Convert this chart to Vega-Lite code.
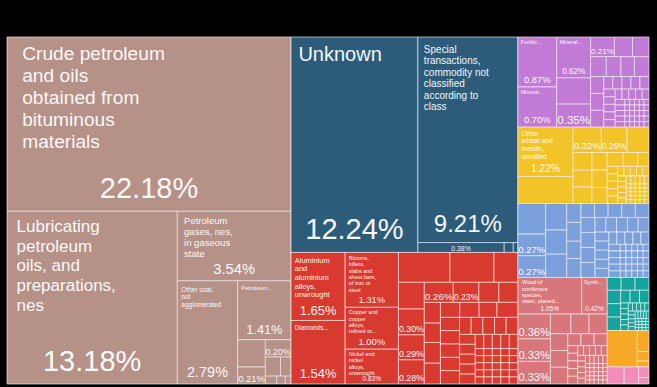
{
"$schema":"https://vega.github.io/schema/vega-lite/v6.json",
"width":642,"height":347,"autosize":"none",
"padding":{"left":7,"top":37,"right":8,"bottom":3},
"background":"#000000",
"config":{"view":{"stroke":null}},
"data":{"values":[
{"k":"1.1","v":22.18,"c":"min","n":"Crude petroleum\nand oils\nobtained from\nbituminous\nmaterials"},
{"k":"1.2.1","v":13.18,"c":"min","n":"Lubricating\npetroleum\noils, and\npreparations,\nnes"},
{"k":"1.2.2.1","v":3.54,"c":"min","n":"Petroleum\ngases, nes,\nin gaseous\nstate"},
{"k":"1.2.2.2.1","v":2.79,"c":"min","n":"Other coal,\nnot\nagglomerated"},
{"k":"1.2.2.2.2.1","v":1.41,"c":"min","n":"Petroleum..."},
{"k":"1.2.2.2.2.2.1.1","v":0.34,"c":"min"},
{"k":"1.2.2.2.2.2.1.2","v":0.21,"c":"min","n":""},
{"k":"1.2.2.2.2.2.2.1","v":0.20,"c":"min","n":""},
{"k":"1.2.2.2.2.2.2.2.1","v":0.13,"c":"min"},
{"k":"1.2.2.2.2.2.2.2.2","v":0.09,"c":"min"},
{"k":"1.2.2.2.2.2.2.3.1","v":0.04,"c":"min"},
{"k":"1.2.2.2.2.2.2.3.2","v":0.03,"c":"min"},
{"k":"1.2.2.2.2.2.2.3.3","v":0.02,"c":"min"},
{"k":"2.1.1","v":12.24,"c":"unk","n":"Unknown"},
{"k":"2.1.2.1","v":9.21,"c":"unk","n":"Special\ntransactions,\ncommodity not\nclassified\naccording to\nclass"},
{"k":"2.1.2.2.1","v":0.38,"c":"unk","n":""},
{"k":"2.1.2.2.2","v":0.04,"c":"unk"},
{"k":"2.1.2.2.3","v":0.02,"c":"unk"},
{"k":"2.2.1.1","v":1.65,"c":"met","n":"Aluminium\nand\naluminium\nalloys,\nunwrought"},
{"k":"2.2.1.2","v":1.54,"c":"met","n":"Diamonds..."},
{"k":"2.2.2.1","v":1.31,"c":"met","n":"Blooms,\nbillets,\nslabs and\nsheet bars,\nof iron or\nsteel"},
{"k":"2.2.2.2","v":1.00,"c":"met","n":"Copper and\ncopper\nalloys,\nrefined or..."},
{"k":"2.2.2.3","v":0.83,"c":"met","n":"Nickel and\nnickel\nalloys,\nunwrought"},
{"k":"2.2.3.1.1","v":0.69,"c":"met"},
{"k":"2.2.3.1.2","v":0.59,"c":"met"},
{"k":"2.2.3.1.3","v":0.32,"c":"met"},
{"k":"2.2.3.2.1.1","v":0.31,"c":"met"},
{"k":"2.2.3.2.1.2","v":0.30,"c":"met","n":""},
{"k":"2.2.3.2.1.3","v":0.29,"c":"met","n":""},
{"k":"2.2.3.2.1.4","v":0.28,"c":"met","n":""},
{"k":"2.2.3.2.2.1.1","v":0.26,"c":"met","n":""},
{"k":"2.2.3.2.2.1.2","v":0.23,"c":"met","n":""},
{"k":"2.2.3.2.2.1.3","v":0.18,"c":"met"},
{"k":"2.2.3.2.2.1.4","v":0.17,"c":"met"},
{"k":"2.2.3.2.2.2.1.1","v":0.15,"c":"met"},
{"k":"2.2.3.2.2.2.1.2","v":0.14,"c":"met"},
{"k":"2.2.3.2.2.2.1.3","v":0.15,"c":"met"},
{"k":"2.2.3.2.2.2.1.4","v":0.15,"c":"met"},
{"k":"2.2.3.2.2.2.2.1.1","v":0.13,"c":"met"},
{"k":"2.2.3.2.2.2.2.1.2","v":0.13,"c":"met"},
{"k":"2.2.3.2.2.2.2.1.3","v":0.12,"c":"met"},
{"k":"2.2.3.2.2.2.2.1.4","v":0.14,"c":"met"},
{"k":"2.2.3.2.2.2.2.2.1.1","v":0.114,"c":"met"},
{"k":"2.2.3.2.2.2.2.2.1.2","v":0.114,"c":"met"},
{"k":"2.2.3.2.2.2.2.2.1.3","v":0.114,"c":"met"},
{"k":"2.2.3.2.2.2.2.2.1.4","v":0.114,"c":"met"},
{"k":"2.2.3.2.2.2.2.2.1.5","v":0.114,"c":"met"},
{"k":"2.2.3.2.2.2.2.2.2.1.1","v":0.089,"c":"met"},
{"k":"2.2.3.2.2.2.2.2.2.1.2","v":0.089,"c":"met"},
{"k":"2.2.3.2.2.2.2.2.2.1.3","v":0.089,"c":"met"},
{"k":"2.2.3.2.2.2.2.2.2.1.4","v":0.089,"c":"met"},
{"k":"2.2.3.2.2.2.2.2.2.1.5","v":0.089,"c":"met"},
{"k":"2.2.3.2.2.2.2.2.2.2.1.1","v":0.070,"c":"met"},
{"k":"2.2.3.2.2.2.2.2.2.2.1.2","v":0.070,"c":"met"},
{"k":"2.2.3.2.2.2.2.2.2.2.1.3","v":0.070,"c":"met"},
{"k":"2.2.3.2.2.2.2.2.2.2.1.4","v":0.070,"c":"met"},
{"k":"2.2.3.2.2.2.2.2.2.2.1.5","v":0.070,"c":"met"},
{"k":"2.2.3.2.2.2.2.2.2.2.2.1.1","v":0.054,"c":"met"},
{"k":"2.2.3.2.2.2.2.2.2.2.2.1.2","v":0.054,"c":"met"},
{"k":"2.2.3.2.2.2.2.2.2.2.2.1.3","v":0.054,"c":"met"},
{"k":"2.2.3.2.2.2.2.2.2.2.2.1.4","v":0.054,"c":"met"},
{"k":"2.2.3.2.2.2.2.2.2.2.2.1.5","v":0.054,"c":"met"},
{"k":"2.2.3.2.2.2.2.2.2.2.2.2.1.1","v":0.027,"c":"met"},
{"k":"2.2.3.2.2.2.2.2.2.2.2.2.1.2","v":0.027,"c":"met"},
{"k":"2.2.3.2.2.2.2.2.2.2.2.2.1.3","v":0.027,"c":"met"},
{"k":"2.2.3.2.2.2.2.2.2.2.2.2.1.4","v":0.027,"c":"met"},
{"k":"2.2.3.2.2.2.2.2.2.2.2.2.1.5","v":0.027,"c":"met"},
{"k":"2.2.3.2.2.2.2.2.2.2.2.2.2.1","v":0.027,"c":"met"},
{"k":"2.2.3.2.2.2.2.2.2.2.2.2.2.2","v":0.027,"c":"met"},
{"k":"2.2.3.2.2.2.2.2.2.2.2.2.2.3","v":0.027,"c":"met"},
{"k":"2.2.3.2.2.2.2.2.2.2.2.2.2.4","v":0.027,"c":"met"},
{"k":"2.2.3.2.2.2.2.2.2.2.2.2.2.5","v":0.027,"c":"met"},
{"k":"2.2.3.2.2.2.2.2.2.2.2.2.3.1","v":0.027,"c":"met"},
{"k":"2.2.3.2.2.2.2.2.2.2.2.2.3.2","v":0.027,"c":"met"},
{"k":"2.2.3.2.2.2.2.2.2.2.2.2.3.3","v":0.027,"c":"met"},
{"k":"2.2.3.2.2.2.2.2.2.2.2.2.3.4","v":0.027,"c":"met"},
{"k":"2.2.3.2.2.2.2.2.2.2.2.2.3.5","v":0.027,"c":"met"},
{"k":"2.2.3.2.2.2.2.2.2.2.2.2.4.1","v":0.027,"c":"met"},
{"k":"2.2.3.2.2.2.2.2.2.2.2.2.4.2","v":0.027,"c":"met"},
{"k":"2.2.3.2.2.2.2.2.2.2.2.2.4.3","v":0.027,"c":"met"},
{"k":"2.2.3.2.2.2.2.2.2.2.2.2.4.4","v":0.027,"c":"met"},
{"k":"2.2.3.2.2.2.2.2.2.2.2.2.4.5","v":0.027,"c":"met"},
{"k":"2.2.3.2.2.2.2.2.2.2.2.2.5.1","v":0.027,"c":"met"},
{"k":"2.2.3.2.2.2.2.2.2.2.2.2.5.2","v":0.027,"c":"met"},
{"k":"2.2.3.2.2.2.2.2.2.2.2.2.5.3","v":0.027,"c":"met"},
{"k":"2.2.3.2.2.2.2.2.2.2.2.2.5.4","v":0.027,"c":"met"},
{"k":"2.2.3.2.2.2.2.2.2.2.2.2.5.5","v":0.027,"c":"met"},
{"k":"3.1.1.1","v":0.87,"c":"chem","n":"Fertiliz..."},
{"k":"3.1.1.2","v":0.70,"c":"chem","n":"Mineral..."},
{"k":"3.1.2.1","v":0.62,"c":"chem","n":"Mineral..."},
{"k":"3.1.2.2","v":0.40,"c":"chem"},
{"k":"3.1.2.3","v":0.35,"c":"chem","n":""},
{"k":"3.1.3.1.1","v":0.21,"c":"chem","n":""},
{"k":"3.1.3.1.2","v":0.16,"c":"chem"},
{"k":"3.1.3.1.3","v":0.145,"c":"chem"},
{"k":"3.1.3.2.1","v":0.14,"c":"chem"},
{"k":"3.1.3.2.2","v":0.13,"c":"chem"},
{"k":"3.1.3.2.3","v":0.12,"c":"chem"},
{"k":"3.1.3.2.4","v":0.13,"c":"chem"},
{"k":"3.1.3.3.1.1","v":0.10,"c":"chem"},
{"k":"3.1.3.3.1.2","v":0.10,"c":"chem"},
{"k":"3.1.3.3.1.3","v":0.10,"c":"chem"},
{"k":"3.1.3.3.2.1.1","v":0.051,"c":"chem"},
{"k":"3.1.3.3.2.1.2","v":0.051,"c":"chem"},
{"k":"3.1.3.3.2.1.3","v":0.051,"c":"chem"},
{"k":"3.1.3.3.2.1.4","v":0.051,"c":"chem"},
{"k":"3.1.3.3.2.1.5","v":0.051,"c":"chem"},
{"k":"3.1.3.3.2.2.1.1","v":0.039,"c":"chem"},
{"k":"3.1.3.3.2.2.1.2","v":0.039,"c":"chem"},
{"k":"3.1.3.3.2.2.1.3","v":0.039,"c":"chem"},
{"k":"3.1.3.3.2.2.1.4","v":0.039,"c":"chem"},
{"k":"3.1.3.3.2.2.1.5","v":0.039,"c":"chem"},
{"k":"3.1.3.3.2.2.2.1.1","v":0.031,"c":"chem"},
{"k":"3.1.3.3.2.2.2.1.2","v":0.031,"c":"chem"},
{"k":"3.1.3.3.2.2.2.1.3","v":0.031,"c":"chem"},
{"k":"3.1.3.3.2.2.2.1.4","v":0.031,"c":"chem"},
{"k":"3.1.3.3.2.2.2.1.5","v":0.031,"c":"chem"},
{"k":"3.1.3.3.2.2.2.2.1.1","v":0.024,"c":"chem"},
{"k":"3.1.3.3.2.2.2.2.1.2","v":0.024,"c":"chem"},
{"k":"3.1.3.3.2.2.2.2.1.3","v":0.024,"c":"chem"},
{"k":"3.1.3.3.2.2.2.2.1.4","v":0.024,"c":"chem"},
{"k":"3.1.3.3.2.2.2.2.1.5","v":0.024,"c":"chem"},
{"k":"3.1.3.3.2.2.2.2.2.1.1","v":0.012,"c":"chem"},
{"k":"3.1.3.3.2.2.2.2.2.1.2","v":0.012,"c":"chem"},
{"k":"3.1.3.3.2.2.2.2.2.1.3","v":0.012,"c":"chem"},
{"k":"3.1.3.3.2.2.2.2.2.1.4","v":0.012,"c":"chem"},
{"k":"3.1.3.3.2.2.2.2.2.1.5","v":0.012,"c":"chem"},
{"k":"3.1.3.3.2.2.2.2.2.2.1","v":0.012,"c":"chem"},
{"k":"3.1.3.3.2.2.2.2.2.2.2","v":0.012,"c":"chem"},
{"k":"3.1.3.3.2.2.2.2.2.2.3","v":0.012,"c":"chem"},
{"k":"3.1.3.3.2.2.2.2.2.2.4","v":0.012,"c":"chem"},
{"k":"3.1.3.3.2.2.2.2.2.2.5","v":0.012,"c":"chem"},
{"k":"3.1.3.3.2.2.2.2.2.3.1","v":0.012,"c":"chem"},
{"k":"3.1.3.3.2.2.2.2.2.3.2","v":0.012,"c":"chem"},
{"k":"3.1.3.3.2.2.2.2.2.3.3","v":0.012,"c":"chem"},
{"k":"3.1.3.3.2.2.2.2.2.3.4","v":0.012,"c":"chem"},
{"k":"3.1.3.3.2.2.2.2.2.3.5","v":0.012,"c":"chem"},
{"k":"3.1.3.3.2.2.2.2.2.4.1","v":0.012,"c":"chem"},
{"k":"3.1.3.3.2.2.2.2.2.4.2","v":0.012,"c":"chem"},
{"k":"3.1.3.3.2.2.2.2.2.4.3","v":0.012,"c":"chem"},
{"k":"3.1.3.3.2.2.2.2.2.4.4","v":0.012,"c":"chem"},
{"k":"3.1.3.3.2.2.2.2.2.4.5","v":0.012,"c":"chem"},
{"k":"3.1.3.3.2.2.2.2.2.5.1","v":0.012,"c":"chem"},
{"k":"3.1.3.3.2.2.2.2.2.5.2","v":0.012,"c":"chem"},
{"k":"3.1.3.3.2.2.2.2.2.5.3","v":0.012,"c":"chem"},
{"k":"3.1.3.3.2.2.2.2.2.5.4","v":0.012,"c":"chem"},
{"k":"3.1.3.3.2.2.2.2.2.5.5","v":0.012,"c":"chem"},
{"k":"3.2.1.1","v":1.22,"c":"veg","n":"Other\nwheat and\nmeslin,\nunmilled"},
{"k":"3.2.1.2","v":0.67,"c":"veg"},
{"k":"3.2.2.1.1","v":0.32,"c":"veg","n":""},
{"k":"3.2.2.1.2","v":0.29,"c":"veg","n":""},
{"k":"3.2.2.1.3","v":0.25,"c":"veg"},
{"k":"3.2.2.2.1.1","v":0.15,"c":"veg"},
{"k":"3.2.2.2.1.2","v":0.14,"c":"veg"},
{"k":"3.2.2.2.1.3","v":0.14,"c":"veg"},
{"k":"3.2.2.2.2.1","v":0.12,"c":"veg"},
{"k":"3.2.2.2.2.2","v":0.12,"c":"veg"},
{"k":"3.2.2.2.2.3","v":0.11,"c":"veg"},
{"k":"3.2.2.2.3.1.1","v":0.10,"c":"veg"},
{"k":"3.2.2.2.3.1.2","v":0.09,"c":"veg"},
{"k":"3.2.2.2.3.1.3","v":0.07,"c":"veg"},
{"k":"3.2.2.2.3.2.1.1","v":0.035,"c":"veg"},
{"k":"3.2.2.2.3.2.1.2","v":0.035,"c":"veg"},
{"k":"3.2.2.2.3.2.1.3","v":0.035,"c":"veg"},
{"k":"3.2.2.2.3.2.1.4","v":0.035,"c":"veg"},
{"k":"3.2.2.2.3.2.1.5","v":0.035,"c":"veg"},
{"k":"3.2.2.2.3.2.2.1.1","v":0.027,"c":"veg"},
{"k":"3.2.2.2.3.2.2.1.2","v":0.027,"c":"veg"},
{"k":"3.2.2.2.3.2.2.1.3","v":0.027,"c":"veg"},
{"k":"3.2.2.2.3.2.2.1.4","v":0.027,"c":"veg"},
{"k":"3.2.2.2.3.2.2.1.5","v":0.027,"c":"veg"},
{"k":"3.2.2.2.3.2.2.2.1.1","v":0.021,"c":"veg"},
{"k":"3.2.2.2.3.2.2.2.1.2","v":0.021,"c":"veg"},
{"k":"3.2.2.2.3.2.2.2.1.3","v":0.021,"c":"veg"},
{"k":"3.2.2.2.3.2.2.2.1.4","v":0.021,"c":"veg"},
{"k":"3.2.2.2.3.2.2.2.1.5","v":0.021,"c":"veg"},
{"k":"3.2.2.2.3.2.2.2.2.1.1","v":0.016,"c":"veg"},
{"k":"3.2.2.2.3.2.2.2.2.1.2","v":0.016,"c":"veg"},
{"k":"3.2.2.2.3.2.2.2.2.1.3","v":0.016,"c":"veg"},
{"k":"3.2.2.2.3.2.2.2.2.1.4","v":0.016,"c":"veg"},
{"k":"3.2.2.2.3.2.2.2.2.1.5","v":0.016,"c":"veg"},
{"k":"3.2.2.2.3.2.2.2.2.2.1.1","v":0.008,"c":"veg"},
{"k":"3.2.2.2.3.2.2.2.2.2.1.2","v":0.008,"c":"veg"},
{"k":"3.2.2.2.3.2.2.2.2.2.1.3","v":0.008,"c":"veg"},
{"k":"3.2.2.2.3.2.2.2.2.2.1.4","v":0.008,"c":"veg"},
{"k":"3.2.2.2.3.2.2.2.2.2.1.5","v":0.008,"c":"veg"},
{"k":"3.2.2.2.3.2.2.2.2.2.2.1","v":0.008,"c":"veg"},
{"k":"3.2.2.2.3.2.2.2.2.2.2.2","v":0.008,"c":"veg"},
{"k":"3.2.2.2.3.2.2.2.2.2.2.3","v":0.008,"c":"veg"},
{"k":"3.2.2.2.3.2.2.2.2.2.2.4","v":0.008,"c":"veg"},
{"k":"3.2.2.2.3.2.2.2.2.2.2.5","v":0.008,"c":"veg"},
{"k":"3.2.2.2.3.2.2.2.2.2.3.1","v":0.008,"c":"veg"},
{"k":"3.2.2.2.3.2.2.2.2.2.3.2","v":0.008,"c":"veg"},
{"k":"3.2.2.2.3.2.2.2.2.2.3.3","v":0.008,"c":"veg"},
{"k":"3.2.2.2.3.2.2.2.2.2.3.4","v":0.008,"c":"veg"},
{"k":"3.2.2.2.3.2.2.2.2.2.3.5","v":0.008,"c":"veg"},
{"k":"3.2.2.2.3.2.2.2.2.2.4.1","v":0.008,"c":"veg"},
{"k":"3.2.2.2.3.2.2.2.2.2.4.2","v":0.008,"c":"veg"},
{"k":"3.2.2.2.3.2.2.2.2.2.4.3","v":0.008,"c":"veg"},
{"k":"3.2.2.2.3.2.2.2.2.2.4.4","v":0.008,"c":"veg"},
{"k":"3.2.2.2.3.2.2.2.2.2.4.5","v":0.008,"c":"veg"},
{"k":"3.2.2.2.3.2.2.2.2.2.5.1","v":0.008,"c":"veg"},
{"k":"3.2.2.2.3.2.2.2.2.2.5.2","v":0.008,"c":"veg"},
{"k":"3.2.2.2.3.2.2.2.2.2.5.3","v":0.008,"c":"veg"},
{"k":"3.2.2.2.3.2.2.2.2.2.5.4","v":0.008,"c":"veg"},
{"k":"3.2.2.2.3.2.2.2.2.2.5.5","v":0.008,"c":"veg"},
{"k":"3.3.1.1","v":0.38,"c":"mach"},
{"k":"3.3.1.2","v":0.27,"c":"mach","n":""},
{"k":"3.3.1.3","v":0.27,"c":"mach","n":""},
{"k":"3.3.2.1","v":0.25,"c":"mach"},
{"k":"3.3.2.2","v":0.23,"c":"mach"},
{"k":"3.3.2.3","v":0.22,"c":"mach"},
{"k":"3.3.3.1","v":0.12,"c":"mach"},
{"k":"3.3.3.2","v":0.12,"c":"mach"},
{"k":"3.3.3.3","v":0.11,"c":"mach"},
{"k":"3.3.3.4","v":0.12,"c":"mach"},
{"k":"3.3.4.1.1","v":0.085,"c":"mach"},
{"k":"3.3.4.1.2","v":0.085,"c":"mach"},
{"k":"3.3.4.1.3","v":0.085,"c":"mach"},
{"k":"3.3.4.1.4","v":0.085,"c":"mach"},
{"k":"3.3.4.1.5","v":0.085,"c":"mach"},
{"k":"3.3.4.2.1.1","v":0.095,"c":"mach"},
{"k":"3.3.4.2.1.2","v":0.095,"c":"mach"},
{"k":"3.3.4.2.1.3","v":0.095,"c":"mach"},
{"k":"3.3.4.2.1.4","v":0.095,"c":"mach"},
{"k":"3.3.4.2.2.1.1","v":0.071,"c":"mach"},
{"k":"3.3.4.2.2.1.2","v":0.071,"c":"mach"},
{"k":"3.3.4.2.2.1.3","v":0.071,"c":"mach"},
{"k":"3.3.4.2.2.1.4","v":0.071,"c":"mach"},
{"k":"3.3.4.2.2.1.5","v":0.071,"c":"mach"},
{"k":"3.3.4.2.2.2.1.1","v":0.056,"c":"mach"},
{"k":"3.3.4.2.2.2.1.2","v":0.056,"c":"mach"},
{"k":"3.3.4.2.2.2.1.3","v":0.056,"c":"mach"},
{"k":"3.3.4.2.2.2.1.4","v":0.056,"c":"mach"},
{"k":"3.3.4.2.2.2.1.5","v":0.056,"c":"mach"},
{"k":"3.3.4.2.2.2.2.1.1","v":0.044,"c":"mach"},
{"k":"3.3.4.2.2.2.2.1.2","v":0.044,"c":"mach"},
{"k":"3.3.4.2.2.2.2.1.3","v":0.044,"c":"mach"},
{"k":"3.3.4.2.2.2.2.1.4","v":0.044,"c":"mach"},
{"k":"3.3.4.2.2.2.2.1.5","v":0.044,"c":"mach"},
{"k":"3.3.4.2.2.2.2.2.1.1","v":0.034,"c":"mach"},
{"k":"3.3.4.2.2.2.2.2.1.2","v":0.034,"c":"mach"},
{"k":"3.3.4.2.2.2.2.2.1.3","v":0.034,"c":"mach"},
{"k":"3.3.4.2.2.2.2.2.1.4","v":0.034,"c":"mach"},
{"k":"3.3.4.2.2.2.2.2.1.5","v":0.034,"c":"mach"},
{"k":"3.3.4.2.2.2.2.2.2.1.1","v":0.017,"c":"mach"},
{"k":"3.3.4.2.2.2.2.2.2.1.2","v":0.017,"c":"mach"},
{"k":"3.3.4.2.2.2.2.2.2.1.3","v":0.017,"c":"mach"},
{"k":"3.3.4.2.2.2.2.2.2.1.4","v":0.017,"c":"mach"},
{"k":"3.3.4.2.2.2.2.2.2.1.5","v":0.017,"c":"mach"},
{"k":"3.3.4.2.2.2.2.2.2.2.1","v":0.017,"c":"mach"},
{"k":"3.3.4.2.2.2.2.2.2.2.2","v":0.017,"c":"mach"},
{"k":"3.3.4.2.2.2.2.2.2.2.3","v":0.017,"c":"mach"},
{"k":"3.3.4.2.2.2.2.2.2.2.4","v":0.017,"c":"mach"},
{"k":"3.3.4.2.2.2.2.2.2.2.5","v":0.017,"c":"mach"},
{"k":"3.3.4.2.2.2.2.2.2.3.1","v":0.017,"c":"mach"},
{"k":"3.3.4.2.2.2.2.2.2.3.2","v":0.017,"c":"mach"},
{"k":"3.3.4.2.2.2.2.2.2.3.3","v":0.017,"c":"mach"},
{"k":"3.3.4.2.2.2.2.2.2.3.4","v":0.017,"c":"mach"},
{"k":"3.3.4.2.2.2.2.2.2.3.5","v":0.017,"c":"mach"},
{"k":"3.3.4.2.2.2.2.2.2.4.1","v":0.017,"c":"mach"},
{"k":"3.3.4.2.2.2.2.2.2.4.2","v":0.017,"c":"mach"},
{"k":"3.3.4.2.2.2.2.2.2.4.3","v":0.017,"c":"mach"},
{"k":"3.3.4.2.2.2.2.2.2.4.4","v":0.017,"c":"mach"},
{"k":"3.3.4.2.2.2.2.2.2.4.5","v":0.017,"c":"mach"},
{"k":"3.3.4.2.2.2.2.2.2.5.1","v":0.017,"c":"mach"},
{"k":"3.3.4.2.2.2.2.2.2.5.2","v":0.017,"c":"mach"},
{"k":"3.3.4.2.2.2.2.2.2.5.3","v":0.017,"c":"mach"},
{"k":"3.3.4.2.2.2.2.2.2.5.4","v":0.017,"c":"mach"},
{"k":"3.3.4.2.2.2.2.2.2.5.5","v":0.017,"c":"mach"},
{"k":"3.4.1.1.1","v":1.05,"c":"wood","n":"Wood of\nconiferous\nspecies,\nsawn, planed..."},
{"k":"3.4.1.1.2","v":0.42,"c":"wood","n":"Synth..."},
{"k":"3.4.1.2.1.1","v":0.36,"c":"wood","n":""},
{"k":"3.4.1.2.1.2","v":0.33,"c":"wood","n":""},
{"k":"3.4.1.2.1.3","v":0.33,"c":"wood","n":""},
{"k":"3.4.1.2.2.1.1","v":0.18,"c":"wood"},
{"k":"3.4.1.2.2.1.2","v":0.16,"c":"wood"},
{"k":"3.4.1.2.2.1.3","v":0.16,"c":"wood"},
{"k":"3.4.1.2.2.2.1.1","v":0.13,"c":"wood"},
{"k":"3.4.1.2.2.2.1.2","v":0.13,"c":"wood"},
{"k":"3.4.1.2.2.2.1.3","v":0.13,"c":"wood"},
{"k":"3.4.1.2.2.2.2.1.1","v":0.07,"c":"wood"},
{"k":"3.4.1.2.2.2.2.1.2","v":0.07,"c":"wood"},
{"k":"3.4.1.2.2.2.2.1.3","v":0.07,"c":"wood"},
{"k":"3.4.1.2.2.2.2.2.1.1","v":0.034,"c":"wood"},
{"k":"3.4.1.2.2.2.2.2.1.2","v":0.034,"c":"wood"},
{"k":"3.4.1.2.2.2.2.2.1.3","v":0.034,"c":"wood"},
{"k":"3.4.1.2.2.2.2.2.1.4","v":0.034,"c":"wood"},
{"k":"3.4.1.2.2.2.2.2.1.5","v":0.034,"c":"wood"},
{"k":"3.4.1.2.2.2.2.2.2.1.1","v":0.026,"c":"wood"},
{"k":"3.4.1.2.2.2.2.2.2.1.2","v":0.026,"c":"wood"},
{"k":"3.4.1.2.2.2.2.2.2.1.3","v":0.026,"c":"wood"},
{"k":"3.4.1.2.2.2.2.2.2.1.4","v":0.026,"c":"wood"},
{"k":"3.4.1.2.2.2.2.2.2.1.5","v":0.026,"c":"wood"},
{"k":"3.4.1.2.2.2.2.2.2.2.1.1","v":0.020,"c":"wood"},
{"k":"3.4.1.2.2.2.2.2.2.2.1.2","v":0.020,"c":"wood"},
{"k":"3.4.1.2.2.2.2.2.2.2.1.3","v":0.020,"c":"wood"},
{"k":"3.4.1.2.2.2.2.2.2.2.1.4","v":0.020,"c":"wood"},
{"k":"3.4.1.2.2.2.2.2.2.2.1.5","v":0.020,"c":"wood"},
{"k":"3.4.1.2.2.2.2.2.2.2.2.1.1","v":0.016,"c":"wood"},
{"k":"3.4.1.2.2.2.2.2.2.2.2.1.2","v":0.016,"c":"wood"},
{"k":"3.4.1.2.2.2.2.2.2.2.2.1.3","v":0.016,"c":"wood"},
{"k":"3.4.1.2.2.2.2.2.2.2.2.1.4","v":0.016,"c":"wood"},
{"k":"3.4.1.2.2.2.2.2.2.2.2.1.5","v":0.016,"c":"wood"},
{"k":"3.4.1.2.2.2.2.2.2.2.2.2.1.1","v":0.008,"c":"wood"},
{"k":"3.4.1.2.2.2.2.2.2.2.2.2.1.2","v":0.008,"c":"wood"},
{"k":"3.4.1.2.2.2.2.2.2.2.2.2.1.3","v":0.008,"c":"wood"},
{"k":"3.4.1.2.2.2.2.2.2.2.2.2.1.4","v":0.008,"c":"wood"},
{"k":"3.4.1.2.2.2.2.2.2.2.2.2.1.5","v":0.008,"c":"wood"},
{"k":"3.4.1.2.2.2.2.2.2.2.2.2.2.1","v":0.008,"c":"wood"},
{"k":"3.4.1.2.2.2.2.2.2.2.2.2.2.2","v":0.008,"c":"wood"},
{"k":"3.4.1.2.2.2.2.2.2.2.2.2.2.3","v":0.008,"c":"wood"},
{"k":"3.4.1.2.2.2.2.2.2.2.2.2.2.4","v":0.008,"c":"wood"},
{"k":"3.4.1.2.2.2.2.2.2.2.2.2.2.5","v":0.008,"c":"wood"},
{"k":"3.4.1.2.2.2.2.2.2.2.2.2.3.1","v":0.008,"c":"wood"},
{"k":"3.4.1.2.2.2.2.2.2.2.2.2.3.2","v":0.008,"c":"wood"},
{"k":"3.4.1.2.2.2.2.2.2.2.2.2.3.3","v":0.008,"c":"wood"},
{"k":"3.4.1.2.2.2.2.2.2.2.2.2.3.4","v":0.008,"c":"wood"},
{"k":"3.4.1.2.2.2.2.2.2.2.2.2.3.5","v":0.008,"c":"wood"},
{"k":"3.4.1.2.2.2.2.2.2.2.2.2.4.1","v":0.008,"c":"wood"},
{"k":"3.4.1.2.2.2.2.2.2.2.2.2.4.2","v":0.008,"c":"wood"},
{"k":"3.4.1.2.2.2.2.2.2.2.2.2.4.3","v":0.008,"c":"wood"},
{"k":"3.4.1.2.2.2.2.2.2.2.2.2.4.4","v":0.008,"c":"wood"},
{"k":"3.4.1.2.2.2.2.2.2.2.2.2.4.5","v":0.008,"c":"wood"},
{"k":"3.4.1.2.2.2.2.2.2.2.2.2.5.1","v":0.008,"c":"wood"},
{"k":"3.4.1.2.2.2.2.2.2.2.2.2.5.2","v":0.008,"c":"wood"},
{"k":"3.4.1.2.2.2.2.2.2.2.2.2.5.3","v":0.008,"c":"wood"},
{"k":"3.4.1.2.2.2.2.2.2.2.2.2.5.4","v":0.008,"c":"wood"},
{"k":"3.4.1.2.2.2.2.2.2.2.2.2.5.5","v":0.008,"c":"wood"},
{"k":"3.4.2.1.1.1.1","v":0.08,"c":"tex"},
{"k":"3.4.2.1.1.1.2","v":0.08,"c":"tex"},
{"k":"3.4.2.1.1.1.3","v":0.08,"c":"tex"},
{"k":"3.4.2.1.1.2.1.1","v":0.08,"c":"tex"},
{"k":"3.4.2.1.1.2.1.2","v":0.08,"c":"tex"},
{"k":"3.4.2.1.1.2.1.3","v":0.08,"c":"tex"},
{"k":"3.4.2.1.1.2.2.1.1","v":0.054,"c":"tex"},
{"k":"3.4.2.1.1.2.2.1.2","v":0.054,"c":"tex"},
{"k":"3.4.2.1.1.2.2.1.3","v":0.054,"c":"tex"},
{"k":"3.4.2.1.1.2.2.2.1.1","v":0.019,"c":"tex"},
{"k":"3.4.2.1.1.2.2.2.1.2","v":0.019,"c":"tex"},
{"k":"3.4.2.1.1.2.2.2.1.3","v":0.019,"c":"tex"},
{"k":"3.4.2.1.1.2.2.2.1.4","v":0.019,"c":"tex"},
{"k":"3.4.2.1.1.2.2.2.1.5","v":0.019,"c":"tex"},
{"k":"3.4.2.1.1.2.2.2.2.1.1","v":0.015,"c":"tex"},
{"k":"3.4.2.1.1.2.2.2.2.1.2","v":0.015,"c":"tex"},
{"k":"3.4.2.1.1.2.2.2.2.1.3","v":0.015,"c":"tex"},
{"k":"3.4.2.1.1.2.2.2.2.1.4","v":0.015,"c":"tex"},
{"k":"3.4.2.1.1.2.2.2.2.1.5","v":0.015,"c":"tex"},
{"k":"3.4.2.1.1.2.2.2.2.2.1.1","v":0.012,"c":"tex"},
{"k":"3.4.2.1.1.2.2.2.2.2.1.2","v":0.012,"c":"tex"},
{"k":"3.4.2.1.1.2.2.2.2.2.1.3","v":0.012,"c":"tex"},
{"k":"3.4.2.1.1.2.2.2.2.2.1.4","v":0.012,"c":"tex"},
{"k":"3.4.2.1.1.2.2.2.2.2.1.5","v":0.012,"c":"tex"},
{"k":"3.4.2.1.1.2.2.2.2.2.2.1.1","v":0.009,"c":"tex"},
{"k":"3.4.2.1.1.2.2.2.2.2.2.1.2","v":0.009,"c":"tex"},
{"k":"3.4.2.1.1.2.2.2.2.2.2.1.3","v":0.009,"c":"tex"},
{"k":"3.4.2.1.1.2.2.2.2.2.2.1.4","v":0.009,"c":"tex"},
{"k":"3.4.2.1.1.2.2.2.2.2.2.1.5","v":0.009,"c":"tex"},
{"k":"3.4.2.1.1.2.2.2.2.2.2.2.1.1","v":0.0046,"c":"tex"},
{"k":"3.4.2.1.1.2.2.2.2.2.2.2.1.2","v":0.0046,"c":"tex"},
{"k":"3.4.2.1.1.2.2.2.2.2.2.2.1.3","v":0.0046,"c":"tex"},
{"k":"3.4.2.1.1.2.2.2.2.2.2.2.1.4","v":0.0046,"c":"tex"},
{"k":"3.4.2.1.1.2.2.2.2.2.2.2.2.1","v":0.0046,"c":"tex"},
{"k":"3.4.2.1.1.2.2.2.2.2.2.2.2.2","v":0.0046,"c":"tex"},
{"k":"3.4.2.1.1.2.2.2.2.2.2.2.2.3","v":0.0046,"c":"tex"},
{"k":"3.4.2.1.1.2.2.2.2.2.2.2.2.4","v":0.0046,"c":"tex"},
{"k":"3.4.2.1.1.2.2.2.2.2.2.2.3.1","v":0.0046,"c":"tex"},
{"k":"3.4.2.1.1.2.2.2.2.2.2.2.3.2","v":0.0046,"c":"tex"},
{"k":"3.4.2.1.1.2.2.2.2.2.2.2.3.3","v":0.0046,"c":"tex"},
{"k":"3.4.2.1.1.2.2.2.2.2.2.2.3.4","v":0.0046,"c":"tex"},
{"k":"3.4.2.1.1.2.2.2.2.2.2.2.4.1","v":0.0046,"c":"tex"},
{"k":"3.4.2.1.1.2.2.2.2.2.2.2.4.2","v":0.0046,"c":"tex"},
{"k":"3.4.2.1.1.2.2.2.2.2.2.2.4.3","v":0.0046,"c":"tex"},
{"k":"3.4.2.1.1.2.2.2.2.2.2.2.4.4","v":0.0046,"c":"tex"},
{"k":"3.4.2.2.1","v":0.49,"c":"ora"},
{"k":"3.4.2.2.2.1","v":0.11,"c":"ora"},
{"k":"3.4.2.2.2.2","v":0.05,"c":"ora"},
{"k":"3.4.2.2.2.3","v":0.03,"c":"ora"},
{"k":"3.4.2.3.1","v":0.13,"c":"pink"},
{"k":"3.4.2.3.2","v":0.11,"c":"pink"},
{"k":"3.4.2.3.3.1","v":0.05,"c":"pink"},
{"k":"3.4.2.3.3.2","v":0.03,"c":"pink"}
]},
"transform":[
{"calculate":"split(datum.k,'.')","as":"pa"},
{"calculate":"0","as":"p0"},
{"calculate":"length(datum.pa)>=1?toNumber(datum.pa[0]):0","as":"p1"},
{"calculate":"length(datum.pa)>=2?toNumber(datum.pa[1]):0","as":"p2"},
{"calculate":"length(datum.pa)>=3?toNumber(datum.pa[2]):0","as":"p3"},
{"calculate":"length(datum.pa)>=4?toNumber(datum.pa[3]):0","as":"p4"},
{"calculate":"length(datum.pa)>=5?toNumber(datum.pa[4]):0","as":"p5"},
{"calculate":"length(datum.pa)>=6?toNumber(datum.pa[5]):0","as":"p6"},
{"calculate":"length(datum.pa)>=7?toNumber(datum.pa[6]):0","as":"p7"},
{"calculate":"length(datum.pa)>=8?toNumber(datum.pa[7]):0","as":"p8"},
{"calculate":"length(datum.pa)>=9?toNumber(datum.pa[8]):0","as":"p9"},
{"calculate":"length(datum.pa)>=10?toNumber(datum.pa[9]):0","as":"p10"},
{"calculate":"length(datum.pa)>=11?toNumber(datum.pa[10]):0","as":"p11"},
{"calculate":"length(datum.pa)>=12?toNumber(datum.pa[11]):0","as":"p12"},
{"calculate":"length(datum.pa)>=13?toNumber(datum.pa[12]):0","as":"p13"},
{"calculate":"length(datum.pa)>=14?toNumber(datum.pa[13]):0","as":"p14"},
{"stack":"v","groupby":["p0"],"sort":[{"field":"p1","order":"ascending"}],"offset":"normalize","as":["s1a","s1b"]},
{"joinaggregate":[{"op":"min","field":"s1a","as":"a1"},{"op":"max","field":"s1b","as":"b1"}],"groupby":["p0","p1"]},
{"stack":"v","groupby":["p0","p1"],"sort":[{"field":"p2","order":"ascending"}],"offset":"normalize","as":["s2a","s2b"]},
{"joinaggregate":[{"op":"min","field":"s2a","as":"a2"},{"op":"max","field":"s2b","as":"b2"}],"groupby":["p0","p1","p2"]},
{"stack":"v","groupby":["p0","p1","p2"],"sort":[{"field":"p3","order":"ascending"}],"offset":"normalize","as":["s3a","s3b"]},
{"joinaggregate":[{"op":"min","field":"s3a","as":"a3"},{"op":"max","field":"s3b","as":"b3"}],"groupby":["p0","p1","p2","p3"]},
{"stack":"v","groupby":["p0","p1","p2","p3"],"sort":[{"field":"p4","order":"ascending"}],"offset":"normalize","as":["s4a","s4b"]},
{"joinaggregate":[{"op":"min","field":"s4a","as":"a4"},{"op":"max","field":"s4b","as":"b4"}],"groupby":["p0","p1","p2","p3","p4"]},
{"stack":"v","groupby":["p0","p1","p2","p3","p4"],"sort":[{"field":"p5","order":"ascending"}],"offset":"normalize","as":["s5a","s5b"]},
{"joinaggregate":[{"op":"min","field":"s5a","as":"a5"},{"op":"max","field":"s5b","as":"b5"}],"groupby":["p0","p1","p2","p3","p4","p5"]},
{"stack":"v","groupby":["p0","p1","p2","p3","p4","p5"],"sort":[{"field":"p6","order":"ascending"}],"offset":"normalize","as":["s6a","s6b"]},
{"joinaggregate":[{"op":"min","field":"s6a","as":"a6"},{"op":"max","field":"s6b","as":"b6"}],"groupby":["p0","p1","p2","p3","p4","p5","p6"]},
{"stack":"v","groupby":["p0","p1","p2","p3","p4","p5","p6"],"sort":[{"field":"p7","order":"ascending"}],"offset":"normalize","as":["s7a","s7b"]},
{"joinaggregate":[{"op":"min","field":"s7a","as":"a7"},{"op":"max","field":"s7b","as":"b7"}],"groupby":["p0","p1","p2","p3","p4","p5","p6","p7"]},
{"stack":"v","groupby":["p0","p1","p2","p3","p4","p5","p6","p7"],"sort":[{"field":"p8","order":"ascending"}],"offset":"normalize","as":["s8a","s8b"]},
{"joinaggregate":[{"op":"min","field":"s8a","as":"a8"},{"op":"max","field":"s8b","as":"b8"}],"groupby":["p0","p1","p2","p3","p4","p5","p6","p7","p8"]},
{"stack":"v","groupby":["p0","p1","p2","p3","p4","p5","p6","p7","p8"],"sort":[{"field":"p9","order":"ascending"}],"offset":"normalize","as":["s9a","s9b"]},
{"joinaggregate":[{"op":"min","field":"s9a","as":"a9"},{"op":"max","field":"s9b","as":"b9"}],"groupby":["p0","p1","p2","p3","p4","p5","p6","p7","p8","p9"]},
{"stack":"v","groupby":["p0","p1","p2","p3","p4","p5","p6","p7","p8","p9"],"sort":[{"field":"p10","order":"ascending"}],"offset":"normalize","as":["s10a","s10b"]},
{"joinaggregate":[{"op":"min","field":"s10a","as":"a10"},{"op":"max","field":"s10b","as":"b10"}],"groupby":["p0","p1","p2","p3","p4","p5","p6","p7","p8","p9","p10"]},
{"stack":"v","groupby":["p0","p1","p2","p3","p4","p5","p6","p7","p8","p9","p10"],"sort":[{"field":"p11","order":"ascending"}],"offset":"normalize","as":["s11a","s11b"]},
{"joinaggregate":[{"op":"min","field":"s11a","as":"a11"},{"op":"max","field":"s11b","as":"b11"}],"groupby":["p0","p1","p2","p3","p4","p5","p6","p7","p8","p9","p10","p11"]},
{"stack":"v","groupby":["p0","p1","p2","p3","p4","p5","p6","p7","p8","p9","p10","p11"],"sort":[{"field":"p12","order":"ascending"}],"offset":"normalize","as":["s12a","s12b"]},
{"joinaggregate":[{"op":"min","field":"s12a","as":"a12"},{"op":"max","field":"s12b","as":"b12"}],"groupby":["p0","p1","p2","p3","p4","p5","p6","p7","p8","p9","p10","p11","p12"]},
{"stack":"v","groupby":["p0","p1","p2","p3","p4","p5","p6","p7","p8","p9","p10","p11","p12"],"sort":[{"field":"p13","order":"ascending"}],"offset":"normalize","as":["s13a","s13b"]},
{"joinaggregate":[{"op":"min","field":"s13a","as":"a13"},{"op":"max","field":"s13b","as":"b13"}],"groupby":["p0","p1","p2","p3","p4","p5","p6","p7","p8","p9","p10","p11","p12","p13"]},
{"stack":"v","groupby":["p0","p1","p2","p3","p4","p5","p6","p7","p8","p9","p10","p11","p12","p13"],"sort":[{"field":"p14","order":"ascending"}],"offset":"normalize","as":["s14a","s14b"]},
{"joinaggregate":[{"op":"min","field":"s14a","as":"a14"},{"op":"max","field":"s14b","as":"b14"}],"groupby":["p0","p1","p2","p3","p4","p5","p6","p7","p8","p9","p10","p11","p12","p13","p14"]},
{"calculate":"datum.a1","as":"x1"},
{"calculate":"datum.b1-datum.a1","as":"w1"},
{"calculate":"datum.a2","as":"y2"},
{"calculate":"datum.b2-datum.a2","as":"h2"},
{"calculate":"datum.x1+datum.a3*datum.w1","as":"x3"},
{"calculate":"(datum.b3-datum.a3)*datum.w1","as":"w3"},
{"calculate":"datum.y2+datum.a4*datum.h2","as":"y4"},
{"calculate":"(datum.b4-datum.a4)*datum.h2","as":"h4"},
{"calculate":"datum.x3+datum.a5*datum.w3","as":"x5"},
{"calculate":"(datum.b5-datum.a5)*datum.w3","as":"w5"},
{"calculate":"datum.y4+datum.a6*datum.h4","as":"y6"},
{"calculate":"(datum.b6-datum.a6)*datum.h4","as":"h6"},
{"calculate":"datum.x5+datum.a7*datum.w5","as":"x7"},
{"calculate":"(datum.b7-datum.a7)*datum.w5","as":"w7"},
{"calculate":"datum.y6+datum.a8*datum.h6","as":"y8"},
{"calculate":"(datum.b8-datum.a8)*datum.h6","as":"h8"},
{"calculate":"datum.x7+datum.a9*datum.w7","as":"x9"},
{"calculate":"(datum.b9-datum.a9)*datum.w7","as":"w9"},
{"calculate":"datum.y8+datum.a10*datum.h8","as":"y10"},
{"calculate":"(datum.b10-datum.a10)*datum.h8","as":"h10"},
{"calculate":"datum.x9+datum.a11*datum.w9","as":"x11"},
{"calculate":"(datum.b11-datum.a11)*datum.w9","as":"w11"},
{"calculate":"datum.y10+datum.a12*datum.h10","as":"y12"},
{"calculate":"(datum.b12-datum.a12)*datum.h10","as":"h12"},
{"calculate":"datum.x11+datum.a13*datum.w11","as":"X0"},
{"calculate":"(datum.b13-datum.a13)*datum.w11","as":"XW"},
{"calculate":"datum.y12+datum.a14*datum.h12","as":"Y0"},
{"calculate":"(datum.b14-datum.a14)*datum.h12","as":"YH"},
{"calculate":"datum.X0+datum.XW","as":"X1"},
{"calculate":"datum.Y0+datum.YH","as":"Y1"},
{"calculate":"datum.XW*642","as":"wp"},
{"calculate":"datum.YH*347","as":"hp"},
{"calculate":"isValid(datum.n) && datum.n != ''","as":"hn"},
{"calculate":"isValid(datum.n)?split(datum.n,'\\n'):[]","as":"ln"},
{"calculate":"max(1,length(datum.ln))","as":"nl"},
{"calculate":"max(1,length(datum.ln[0]||''),length(datum.ln[1]||''),length(datum.ln[2]||''),length(datum.ln[3]||''),length(datum.ln[4]||''),length(datum.ln[5]||''))","as":"ml"},
{"calculate":"max(5.5,min(20,1.3*datum.wp/datum.ml,0.55*datum.hp/datum.nl))","as":"fn"},
{"calculate":"datum.fn*1.15","as":"lh"},
{"calculate":"min(8,0.05*datum.hp+1)","as":"pady"},
{"calculate":"datum.hp-(datum.hn?datum.pady+datum.nl*datum.lh:0)","as":"av"},
{"calculate":"max(6.5,min(29,(datum.hn?0.24:0.34)*datum.wp,0.8*datum.hp,0.7*datum.av))","as":"fp"},
{"calculate":"datum.X0+(0.05*datum.wp+1)/642","as":"nx"},
{"calculate":"datum.Y0+datum.pady/347","as":"ny"},
{"calculate":"datum.X0+datum.XW/2","as":"px"},
{"calculate":"datum.Y1-min(0.45*datum.fp,0.12*datum.hp)/347","as":"py"},
{"calculate":"format(datum.v,'.2f')+'%'","as":"pt"}
],
"layer":[
{"mark":{"type":"rect","stroke":"#ffffff","strokeOpacity":0.6,"strokeWidth":1},
 "encoding":{
  "x":{"field":"X0","type":"quantitative","scale":{"domain":[0,1],"nice":false,"zero":false},"axis":null},
  "x2":{"field":"X1"},
  "y":{"field":"Y0","type":"quantitative","scale":{"domain":[0,1],"nice":false,"zero":false,"reverse":true},"axis":null},
  "y2":{"field":"Y1"},
  "color":{"field":"c","type":"nominal","legend":null,"scale":{"domain":["min","unk","met","chem","veg","mach","wood","tex","ora","pink"],"range":["#b69187","#2c5c7a","#d93a30","#c17ad6","#f2c42a","#7ba0dc","#d8777b","#15a39e","#f7a826","#f38cbb"]}}
 }},
{"transform":[{"filter":"datum.hn"}],
 "mark":{"type":"text","align":"left","baseline":"top","font":"Liberation Sans","color":"#ffffff","opacity":0.95,"lineBreak":"\n","lineHeight":{"expr":"datum.lh"}},
 "encoding":{
  "x":{"field":"nx","type":"quantitative","scale":{"domain":[0,1],"nice":false,"zero":false},"axis":null},
  "y":{"field":"ny","type":"quantitative","scale":{"domain":[0,1],"nice":false,"zero":false,"reverse":true},"axis":null},
  "text":{"field":"n","type":"nominal"},
  "size":{"field":"fn","type":"quantitative","scale":null}
 }},
{"transform":[{"filter":"isValid(datum.n)"}],
 "mark":{"type":"text","align":"center","baseline":"alphabetic","font":"Liberation Sans","color":"#ffffff","opacity":0.95},
 "encoding":{
  "x":{"field":"px","type":"quantitative","scale":{"domain":[0,1],"nice":false,"zero":false},"axis":null},
  "y":{"field":"py","type":"quantitative","scale":{"domain":[0,1],"nice":false,"zero":false,"reverse":true},"axis":null},
  "text":{"field":"pt","type":"nominal"},
  "size":{"field":"fp","type":"quantitative","scale":null}
 }}
]
}
